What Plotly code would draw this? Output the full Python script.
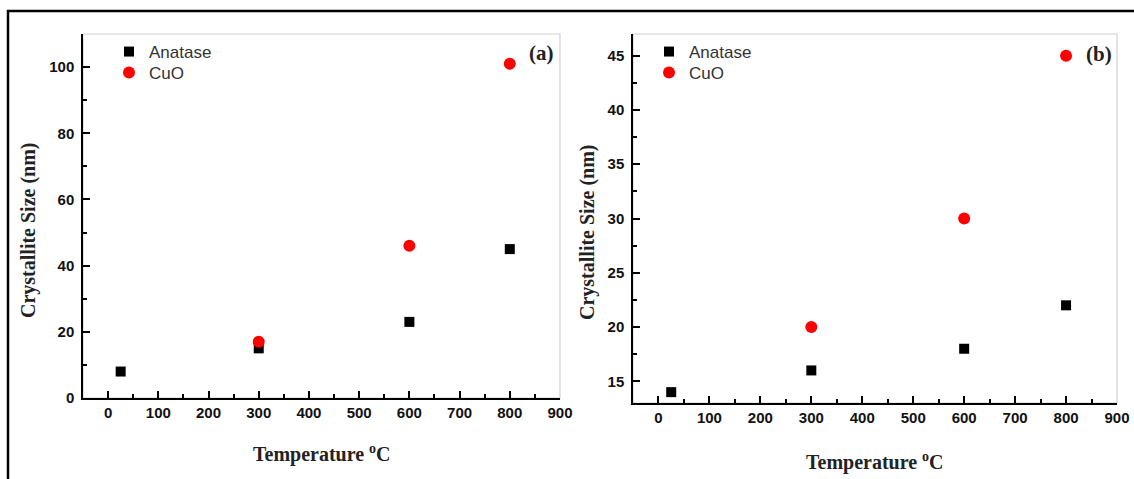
import plotly.graph_objects as go

W, H = 1134, 479

# ---- data ----
temps_anatase = [25, 300, 600, 800]
temps_cuo = [300, 600, 800]
a_anatase = [8, 15, 23, 45]
a_cuo = [17, 46, 101]
b_anatase = [14, 16, 18, 22]
b_cuo = [20, 30, 45]
x_range = [-50, 900]
a_y_range = [0, 110]
b_y_range = [13, 47]

BLACK = "#000000"
RED = "#ff0000"
SANS = "Liberation Sans, Arial, sans-serif"
SERIF = "Liberation Serif, Times New Roman, serif"

def px(x):
    return x / W

def py(y):
    return 1 - y / H

# panel positions (pixels)
A = dict(l=83, r=560, t=34, b=398)
B = dict(l=633, r=1117, t=34, b=403)

fig = go.Figure()

def add_panel(xs_a, ys_a, xs_c, ys_c, xa, ya, lg_a, lg_c):
    fig.add_trace(go.Scatter(x=xs_a, y=ys_a, mode="markers", name="Anatase",
                             marker=dict(symbol="square", size=10, color=BLACK),
                             xaxis=xa, yaxis=ya, legend=lg_a, showlegend=True))
    fig.add_trace(go.Scatter(x=xs_c, y=ys_c, mode="markers", name="CuO",
                             marker=dict(symbol="circle", size=12, color=RED),
                             xaxis=xa, yaxis=ya, legend=lg_c, showlegend=True))

add_panel(temps_anatase, a_anatase, temps_cuo, a_cuo, "x", "y", "legend", "legend2")
add_panel(temps_anatase, b_anatase, temps_cuo, b_cuo, "x2", "y2", "legend3", "legend4")

tickfont = dict(family=SANS, size=15, color="#111111", weight="bold")

def xaxis(P, anchor):
    return dict(domain=[px(P["l"]), px(P["r"])], range=x_range, anchor=anchor,
                tickmode="linear", tick0=0, dtick=100, ticks="inside", ticklen=7,
                tickwidth=1.5, tickcolor=BLACK, showline=True, linecolor=BLACK,
                linewidth=1.5, showgrid=False, zeroline=False, tickfont=tickfont,
                minor=dict(ticks="inside", ticklen=4, tickwidth=1.5, tickcolor=BLACK,
                           tick0=0, dtick=50, showgrid=False),
                automargin=False, fixedrange=True)

def yaxis(P, anchor, rng, dtick, minor):
    return dict(domain=[py(P["b"]), py(P["t"])], range=rng, anchor=anchor,
                tickmode="linear", tick0=0, dtick=dtick, ticks="inside", ticklen=7,
                tickwidth=1.5, tickcolor=BLACK, showline=True, linecolor=BLACK,
                linewidth=1.5, showgrid=False, zeroline=False, tickfont=tickfont,
                ticklabelstandoff=4,
                minor=dict(ticks="inside", ticklen=4, tickwidth=1.5, tickcolor=BLACK,
                           tick0=0, dtick=minor, showgrid=False),
                automargin=False, fixedrange=True)

legend_common = dict(font=dict(family=SANS, size=17, color="#333333"),
                     bgcolor="rgba(0,0,0,0)", borderwidth=0, tracegroupgap=0,
                     itemsizing="trace", xanchor="left", yanchor="middle")

fig.update_layout(
    width=W, height=H,
    margin=dict(l=0, r=0, t=0, b=0),
    paper_bgcolor="white", plot_bgcolor="white",
    xaxis=xaxis(A, "y"),
    yaxis=yaxis(A, "x", a_y_range, 20, 10),
    xaxis2=xaxis(B, "y2"),
    yaxis2=yaxis(B, "x2", b_y_range, 5, 2.5),
    legend=dict(x=px(109), y=py(52), **legend_common),
    legend2=dict(x=px(109), y=py(73), **legend_common),
    legend3=dict(x=px(649), y=py(52), **legend_common),
    legend4=dict(x=px(649), y=py(73), **legend_common),
    showlegend=True,
)

shapes = []
# light gray plot frames (top/right)
for P in (A, B):
    shapes.append(dict(type="rect", xref="paper", yref="paper",
                       x0=px(P["l"]), x1=px(P["r"]), y0=py(P["b"]), y1=py(P["t"]),
                       line=dict(color="#d0d0d0", width=1.2), layer="below"))
# outer figure border
shapes.append(dict(type="rect", xref="paper", yref="paper",
                   x0=px(8), x1=px(1145), y0=py(495), y1=py(11),
                   line=dict(color=BLACK, width=2.5)))
fig.update_layout(shapes=shapes)

title_font = dict(family=SERIF, size=20, color="#222222", weight="bold")
lab_font = dict(family=SERIF, size=21, color="#222222", weight="bold")
common = dict(xref="paper", yref="paper", showarrow=False, xanchor="center", yanchor="middle")
ann = [
    dict(text="Crystallite Size (nm)", x=px(29), y=py(230), textangle=-90, font=title_font, **common),
    dict(text="Crystallite Size (nm)", x=px(587), y=py(232), textangle=-90, font=title_font, **common),
    dict(text="Temperature <sup>o</sup>C", x=px((A["l"] + A["r"]) / 2), y=py(453), font=title_font, **common),
    dict(text="Temperature <sup>o</sup>C", x=px((B["l"] + B["r"]) / 2), y=py(461), font=title_font, **common),
    dict(text="(a)", x=px(541), y=py(53), font=lab_font, **common),
    dict(text="(b)", x=px(1099), y=py(54), font=lab_font, **common),
]
fig.update_layout(annotations=ann)

fig.write_html("out.html", config={"displayModeBar": False},
               post_script="document.body.style.margin='0';document.body.style.overflow='hidden';")
